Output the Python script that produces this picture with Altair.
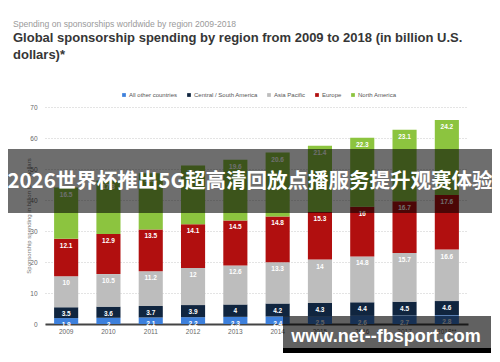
import altair as alt
import pandas as pd

years = ["2009", "2010", "2011", "2012", "2013", "2014", "2015", "2016", "2017", "2018**"]
regions = ["All other countries", "Central / South America", "Asia Pacific", "Europe", "North America"]
colors = ["#3d80dc", "#10253f", "#bdbdbd", "#b10f0f", "#8cc43f"]

other = [1.9, 2, 2.1, 2.2, 2.3, 2.4, 2.5, 2.6, 2.7, 2.8]
central = [3.5, 3.6, 3.7, 3.9, 4, 4.2, 4.3, 4.4, 4.5, 4.6]
asia = [10, 10.5, 11.2, 12, 12.6, 13.3, 14, 14.8, 15.7, 16.6]
europe = [12.1, 12.9, 13.5, 14.1, 14.5, 14.8, 15.3, 16, 16.7, 17.6]
north_america = [16.5, 17.3, 18.1, 18.9, 19.6, 20.6, 21.4, 22.3, 23.1, 24.2]

series = [other, central, asia, europe, north_america]
rows = []
for i, yr in enumerate(years):
    for j, reg in enumerate(regions):
        v = series[j][i]
        rows.append({"year": yr, "region": reg, "ord": j, "value": v, "label": f"{v:g}"})
df = pd.DataFrame(rows)
one = pd.DataFrame({"k": [0]})

YTITLE = "Sponsorship spending in billion U.S. dollars"
FONT = "Liberation Sans"

xax = alt.Axis(title=None, labelAngle=0, ticks=False, labelPadding=4, labelFontSize=6.5,
               labelColor="#666", domainColor="#444", domainWidth=2, labelFont=FONT, zindex=0)
yax = alt.Axis(values=list(range(0, 71, 10)), title=YTITLE, domain=False, ticks=False,
               labelPadding=8, labelFontSize=6.5, labelColor="#666", labelFont=FONT,
               gridDash=[1, 2], gridColor="#c8c8c8", gridWidth=1,
               titleFontSize=6, titleColor="#777", titleFontWeight="normal", titleFont=FONT,
               titleX=-17, titleY=108.5, titleBaseline="middle", zindex=0)

base = alt.Chart(df)
bars = base.mark_bar().encode(
    x=alt.X("year:N", sort=years, scale=alt.Scale(paddingInner=0.43, paddingOuter=0.215), axis=xax),
    y=alt.Y("value:Q", stack="zero", scale=alt.Scale(domain=[0, 70], nice=False), axis=yax),
    color=alt.Color("region:N", scale=alt.Scale(domain=regions, range=colors),
                    legend=alt.Legend(orient="none", legendX=76, legendY=-15, direction="horizontal",
                                      title=None, symbolType="square", symbolSize=14,
                                      labelFontSize=6, labelColor="#555", labelOffset=2,
                                      columnPadding=8, symbolStrokeWidth=0, labelFont=FONT)),
    order=alt.Order("ord:Q", sort="ascending"),
)

labels = base.transform_stack(
    stack="value", groupby=["year"], sort=[alt.SortField("ord", order="ascending")], as_=["v0", "v1"]
).mark_text(dy=7, fontSize=6.5, fontWeight="bold", color="white", font=FONT).encode(
    x=alt.X("year:N", sort=years, axis=xax),
    y=alt.Y("v1:Q", axis=yax),
    text="label:N",
)

banner = alt.Chart(one).mark_rect(color="black", opacity=0.57).encode(
    x=alt.value(-45), x2=alt.value(455), y=alt.value(42), y2=alt.value(106))
banner_text = alt.Chart(one).mark_text(
    text="2026世界杯推出5G超高清回放点播服务提升观赛体验", font="Noto Sans CJK SC", fontWeight="bold",
    fontSize=20.5, color="white", align="center", baseline="middle").encode(
    x=alt.value(205), y=alt.value(75))

wm_rect = alt.Chart(one).mark_rect(color="black", opacity=0.62).encode(
    x=alt.value(238), x2=alt.value(446), y=alt.value(209), y2=alt.value(241))
wm_strip = alt.Chart(one).mark_rect(color="black").encode(
    x=alt.value(238), x2=alt.value(446), y=alt.value(241), y2=alt.value(246))
wm_text = alt.Chart(one).mark_text(
    text="www.net--fbsport.com", font=FONT, fontWeight="bold", fontSize=18, color="white",
    align="center", baseline="middle").encode(x=alt.value(341), y=alt.value(230))

sub = alt.Chart(one).mark_text(
    text="Spending on sponsorships worldwide by region 2009-2018", font=FONT, fontSize=8.6,
    color="#9a9a9a", align="left", baseline="middle").encode(x=alt.value(-32), y=alt.value(-83))
t1 = alt.Chart(one).mark_text(
    text="Global sponsorship spending by region from 2009 to 2018 (in billion U.S.", font=FONT,
    fontSize=13, fontWeight="bold", color="#363636", align="left", baseline="middle").encode(
    x=alt.value(-32), y=alt.value(-69))
t2 = alt.Chart(one).mark_text(
    text="dollars)*", font=FONT, fontSize=13, fontWeight="bold", color="#363636",
    align="left", baseline="middle").encode(x=alt.value(-32), y=alt.value(-52))

chart = alt.layer(bars, labels, banner, banner_text, wm_rect, wm_strip, wm_text, sub, t1, t2).properties(
    width=423, height=217,
    autosize=alt.AutoSizeParams(type="none"),
    padding={"left": 37, "top": 99, "right": 24, "bottom": 30},
    background="white",
).configure_view(stroke=None)

chart.save("out.html", embed_options={"renderer": "svg", "actions": False})
